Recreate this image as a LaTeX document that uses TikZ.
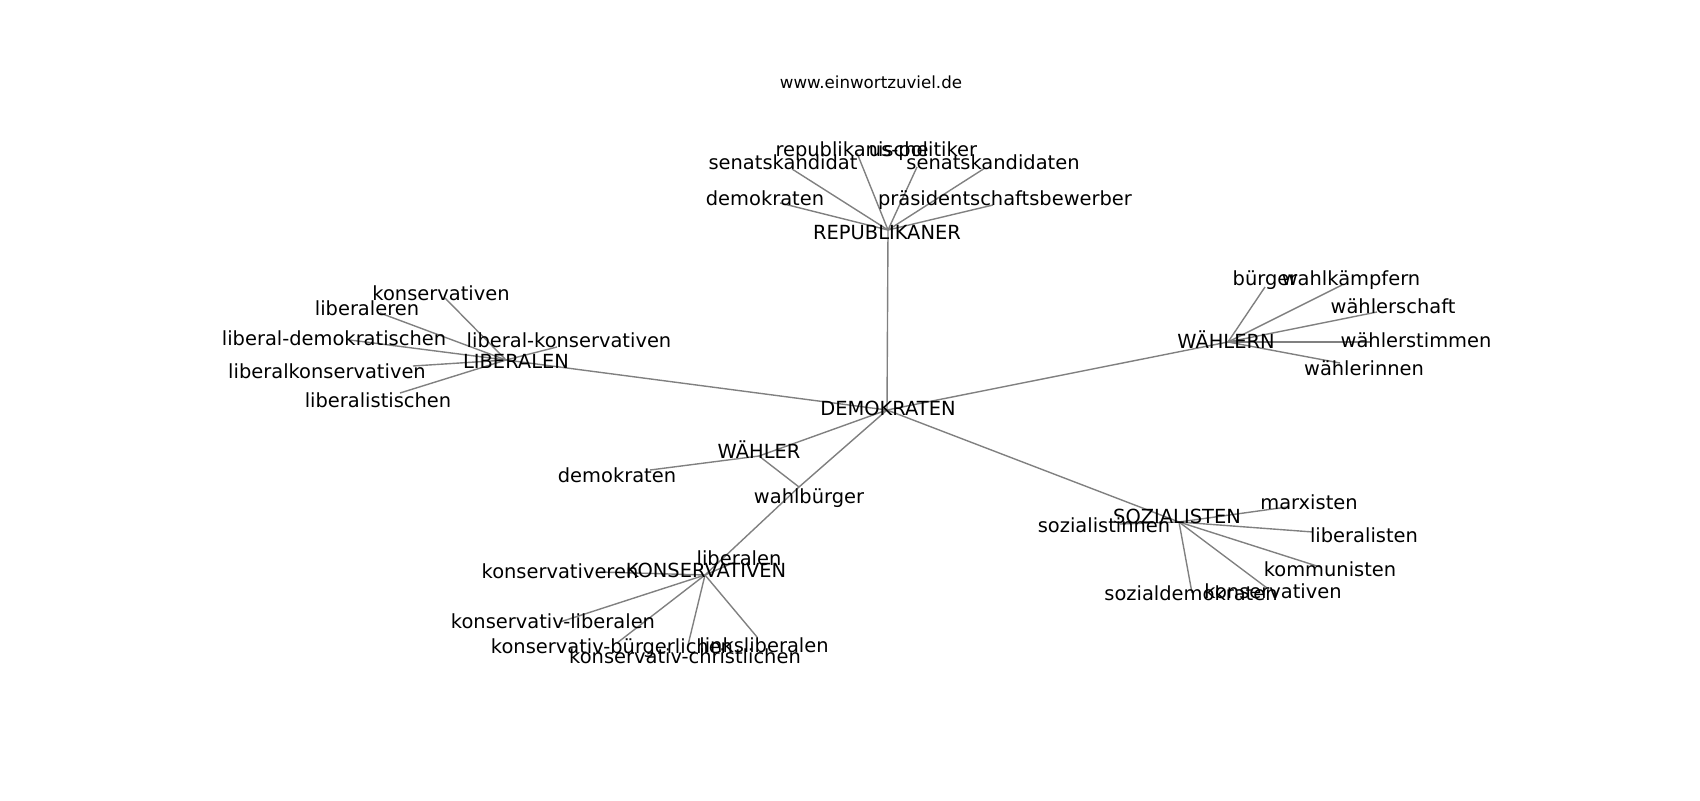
\documentclass[tikz,border=0pt]{standalone}
\usepackage{fontspec}
\setmainfont{DejaVu Sans}
\begin{document}
\begin{tikzpicture}[x=0.72pt,y=-0.72pt,
  lbl/.style={anchor=base,inner sep=0pt,font=\fontsize{14}{14}\selectfont},
  ttl/.style={anchor=base,inner sep=0pt,font=\fontsize{12}{12}\selectfont},
  edge/.style={draw=gray,line width=1pt}]
\useasboundingbox[fill=white] (0,0) rectangle (1700,800);
% graph vertices
\coordinate (vDEM) at (887,410);
\coordinate (vREP) at (888,230);
\coordinate (vLIB) at (506,360);
\coordinate (vWN) at (1228,342);
\coordinate (vSOZ) at (1179,522);
\coordinate (vKON) at (705,575);
\coordinate (vW) at (759,456);
\coordinate (vWB) at (799,487);
\coordinate (vLK) at (735,562);
\coordinate (vR1) at (792,169);
\coordinate (vR2) at (857,153);
\coordinate (vR3) at (917,167);
\coordinate (vR4) at (985,168);
\coordinate (vR5) at (780,203);
\coordinate (vR6) at (993,205);
\coordinate (vL1) at (445,298);
\coordinate (vL2) at (380,313);
\coordinate (vL3) at (350,340);
\coordinate (vL4) at (413,366);
\coordinate (vL5) at (400,393);
\coordinate (vL6) at (557,347);
\coordinate (vN1) at (1265,287);
\coordinate (vN2) at (1342,285);
\coordinate (vN3) at (1377,312);
\coordinate (vN4) at (1370,342);
\coordinate (vN5) at (1340,363);
\coordinate (vS1) at (1287,507);
\coordinate (vS2) at (1313,532);
\coordinate (vS3) at (1320,567);
\coordinate (vS4) at (1267,588);
\coordinate (vS5) at (1192,593);
\coordinate (vS6) at (1120,524);
\coordinate (vK1) at (600,572);
\coordinate (vK2) at (560,622);
\coordinate (vK3) at (617,643);
\coordinate (vK4) at (688,645);
\coordinate (vK5) at (757,637);
\coordinate (vW1) at (650,470);
% edges
\foreach \a/\b in {vDEM/vREP,vDEM/vLIB,vDEM/vWN,vDEM/vSOZ,vDEM/vW,vDEM/vWB,
  vW/vWB,vWB/vKON,vW/vW1,
  vREP/vR1,vREP/vR2,vREP/vR3,vREP/vR4,vREP/vR5,vREP/vR6,
  vLIB/vL1,vLIB/vL2,vLIB/vL3,vLIB/vL4,vLIB/vL5,vLIB/vL6,
  vWN/vN1,vWN/vN2,vWN/vN3,vWN/vN4,vWN/vN5,
  vSOZ/vS1,vSOZ/vS2,vSOZ/vS3,vSOZ/vS4,vSOZ/vS5,vSOZ/vS6,
  vKON/vK1,vKON/vK2,vKON/vK3,vKON/vK4,vKON/vK5,vKON/vLK}
  \draw[edge] (\a) -- (\b);
% labels
\node[ttl] (title) at (871,88) {www.einwortzuviel.de};
\node[lbl] (lDEM) at (888,415) {DEMOKRATEN};
\node[lbl] (lREP) at (887,239) {REPUBLIKANER};
\node[lbl] (lLIB) at (516,368) {LIBERALEN};
\node[lbl] (lWN) at (1226,348) {WÄHLERN};
\node[lbl] (lW) at (759,458) {WÄHLER};
\node[lbl] (lWB) at (809,503) {wahlbürger};
\node[lbl] (lSOZ) at (1177,523) {SOZIALISTEN};
\node[lbl] (lKON) at (706,577) {KONSERVATIVEN};
\node[lbl] (lLK) at (739,565) {liberalen};
\node[lbl] (lR2) at (852,156) {republikanische};
\node[lbl] (lR3) at (923,156) {us-politiker};
\node[lbl] (lR1) at (783,169) {senatskandidat};
\node[lbl] (lR4) at (993,169) {senatskandidaten};
\node[lbl] (lR5) at (765,205) {demokraten};
\node[lbl] (lR6) at (1005,205) {präsidentschaftsbewerber};
\node[lbl] (lL1) at (441,300) {konservativen};
\node[lbl] (lL2) at (367,315) {liberaleren};
\node[lbl] (lL3) at (334,345) {liberal-demokratischen};
\node[lbl] (lL6) at (569,347) {liberal-konservativen};
\node[lbl] (lL4) at (327,378) {liberalkonservativen};
\node[lbl] (lL5) at (378,407) {liberalistischen};
\node[lbl] (lN1) at (1265,285) {bürger};
\node[lbl] (lN2) at (1351,285) {wahlkämpfern};
\node[lbl] (lN3) at (1393,313) {wählerschaft};
\node[lbl] (lN4) at (1416,347) {wählerstimmen};
\node[lbl] (lN5) at (1364,375) {wählerinnen};
\node[lbl] (lW1) at (617,482) {demokraten};
\node[lbl] (lS1) at (1309,509) {marxisten};
\node[lbl] (lS6) at (1104,532) {sozialistinnen};
\node[lbl] (lS2) at (1364,542) {liberalisten};
\node[lbl] (lS3) at (1330,576) {kommunisten};
\node[lbl] (lS5) at (1191,600) {sozialdemokraten};
\node[lbl] (lS4) at (1273,598) {konservativen};
\node[lbl] (lK1) at (560,578) {konservativeren};
\node[lbl] (lK2) at (553,628) {konservativ-liberalen};
\node[lbl] (lK3) at (612,653) {konservativ-bürgerlichen};
\node[lbl] (lK4) at (685,663) {konservativ-christlichen};
\node[lbl] (lK5) at (764,652) {linksliberalen};
\end{tikzpicture}
\end{document}
